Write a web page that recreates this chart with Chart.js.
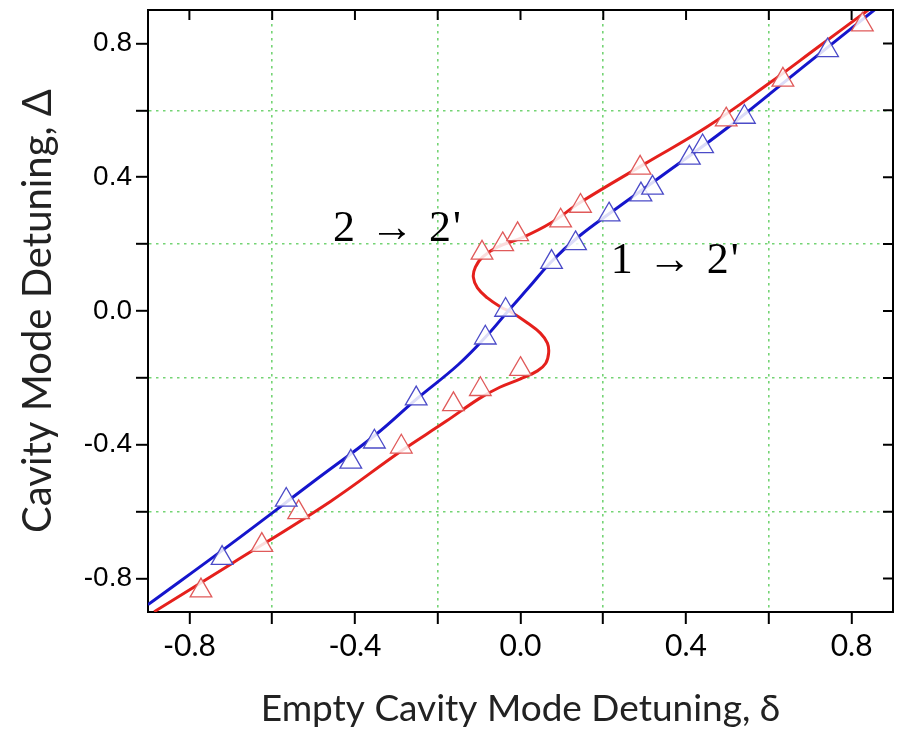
<!DOCTYPE html>
<html><head><meta charset="utf-8">
<script src="https://cdn.jsdelivr.net/npm/chart.js@4.4.0/dist/chart.umd.min.js"></script>
<style>html,body{margin:0;padding:0;background:#fff;}#wrap{width:898px;height:731px;}</style>
</head><body><div id="wrap"><canvas id="c" width="898" height="731"></canvas></div>
<script>
// ---- data ----
const blueMarkerX = [-0.721,-0.566,-0.410,-0.353,-0.252,-0.085,-0.036,0.075,0.133,0.214,0.291,0.319,0.408,0.440,0.541,0.742];
const blueMarkerY = [-0.739,-0.565,-0.451,-0.391,-0.262,-0.080,0.003,0.146,0.202,0.288,0.348,0.368,0.458,0.492,0.580,0.779];
const redMarkerX = [-0.772,-0.625,-0.536,-0.288,-0.162,-0.097,0.000,-0.093,-0.043,-0.007,0.097,0.145,0.289,0.497,0.634,0.826];
const redMarkerY = [-0.836,-0.700,-0.602,-0.406,-0.279,-0.234,-0.174,0.174,0.199,0.229,0.270,0.314,0.428,0.572,0.691,0.856];
const blueCurveX = [-0.900,-0.700,-0.500,-0.350,-0.250,-0.150,-0.080,-0.030,0.020,0.075,0.140,0.220,0.340,0.500,0.680,0.860];
const blueCurveY = [-0.878,-0.697,-0.510,-0.370,-0.262,-0.160,-0.072,0.000,0.070,0.148,0.222,0.296,0.403,0.548,0.727,0.905];
const redCurveX = [-0.885,-0.700,-0.460,-0.290,-0.180,-0.100,-0.050,0.000,0.041,0.061,0.068,0.065,0.048,0.017,-0.019,-0.048,-0.080,-0.104,-0.114,-0.109,-0.092,-0.056,0.007,0.073,0.145,0.300,0.450,0.600,0.720,0.840];
const redCurveY = [-0.899,-0.757,-0.570,-0.420,-0.330,-0.262,-0.228,-0.203,-0.179,-0.156,-0.125,-0.096,-0.066,-0.036,-0.006,0.012,0.039,0.069,0.101,0.131,0.161,0.191,0.221,0.263,0.325,0.440,0.550,0.680,0.790,0.900];
const tickValues = [-0.8,-0.6,-0.4,-0.2,0.0,0.2,0.4,0.6,0.8];
const xTickLabels = ['-0.8','','-0.4','','0.0','','0.4','','0.8'];
const yTickLabels = ['-0.8','','-0.4','','0.0','','0.4','','0.8'];
const xTitle = 'Empty Cavity Mode Detuning, \u03B4';
const yTitle = 'Cavity Mode Detuning, \u0394';
const annotations = [
  {text: "2 \u2192 2'", x: -0.453, y: 0.209},
  {text: "1 \u2192 2'", x: 0.218, y: 0.1135}
];

const pts = (xs, ys) => xs.map((v, i) => ({x: v, y: ys[i]}));
const isLabeled = (labels, i) => labels[i] !== '';
const GREEN = '#74d474';

const framePlugin = {
  id: 'frame',
  afterDatasetsDraw(chart) {
    const {ctx, chartArea: a, scales: {x, y}} = chart;
    ctx.save();
    ctx.strokeStyle = '#000';
    ctx.lineWidth = 2;
    ctx.beginPath();
    ctx.moveTo(a.left - 1, a.top);
    ctx.lineTo(a.right, a.top);
    ctx.lineTo(a.right, a.bottom + 1);
    tickValues.forEach(v => {
      const px = x.getPixelForValue(v);
      ctx.moveTo(px, a.top); ctx.lineTo(px, a.top + 10);
      const py = y.getPixelForValue(v);
      ctx.moveTo(a.right, py); ctx.lineTo(a.right - 10, py);
    });
    ctx.stroke();
    ctx.fillStyle = '#000';
    ctx.font = '44px "Liberation Serif", "DejaVu Serif", serif';
    try { ctx.letterSpacing = '2px'; } catch (e) {}
    ctx.textAlign = 'left';
    ctx.textBaseline = 'alphabetic';
    annotations.forEach(an => ctx.fillText(an.text, x.getPixelForValue(an.x), y.getPixelForValue(an.y)));
    ctx.restore();
  }
};

const noPad = s => { s.paddingTop = 0; s.paddingBottom = 0; s.paddingLeft = 0; s.paddingRight = 0; };
const markerCommon = {pointStyle: 'triangle', pointRadius: 12.5, pointBorderWidth: 1.3, showLine: false, pointBackgroundColor: 'rgba(255,255,255,0.85)'};

new Chart(document.getElementById('c'), {
  type: 'scatter',
  data: {
    datasets: [
      Object.assign({label: 'blue markers', data: pts(blueMarkerX, blueMarkerY), pointBorderColor: '#4b4bc8', borderColor: '#4b4bc8', order: 1}, markerCommon),
      Object.assign({label: 'red markers', data: pts(redMarkerX, redMarkerY), pointBorderColor: '#e05a5a', borderColor: '#e05a5a', order: 2}, markerCommon),
      {label: 'blue curve', data: pts(blueCurveX, blueCurveY), showLine: true, borderColor: '#1515cc', borderWidth: 3, pointRadius: 0, tension: 0.4, order: 3},
      {label: 'red curve', data: pts(redCurveX, redCurveY), showLine: true, borderColor: '#e5201c', borderWidth: 3, pointRadius: 0, tension: 0.4, order: 4}
    ]
  },
  options: {
    responsive: false,
    devicePixelRatio: 1,
    animation: false,
    layout: {autoPadding: false, padding: {top: 10, right: 5, left: 0, bottom: 0}},
    plugins: {legend: {display: false}, tooltip: {enabled: false}},
    scales: {
      x: {
        type: 'linear', position: 'bottom', min: -0.9, max: 0.9,
        afterBuildTicks: s => { s.ticks = tickValues.map(v => ({value: v})); },
        afterFit: s => { s.height = 119; noPad(s); },
        ticks: {callback: (v, i) => xTickLabels[i], autoSkip: false, maxRotation: 0, color: '#000', padding: 4,
                font: {family: 'Lato, "Liberation Sans", sans-serif', size: 30}},
        grid: {color: c => (c.tick && !isLabeled(xTickLabels, c.index)) ? GREEN : 'rgba(0,0,0,0)', lineWidth: 1.6,
               tickColor: '#000', tickLength: 12, tickWidth: 2},
        border: {display: true, color: '#000', width: 2, dash: [2.5, 4.5]},
        title: {display: true, text: xTitle, color: '#222', padding: 0,
                font: {family: 'Lato, "Liberation Sans", sans-serif', size: 37}}
      },
      y: {
        type: 'linear', position: 'left', min: -0.9, max: 0.9,
        afterBuildTicks: s => { s.ticks = tickValues.map(v => ({value: v})); },
        afterFit: s => { s.width = 148; noPad(s); },
        ticks: {callback: (v, i) => yTickLabels[i], autoSkip: false, color: '#000', padding: 4,
                font: {family: '"Liberation Sans", Arial, sans-serif', size: 28}},
        grid: {color: c => (c.tick && !isLabeled(yTickLabels, c.index)) ? GREEN : 'rgba(0,0,0,0)', lineWidth: 1.6,
               tickColor: '#000', tickLength: 12, tickWidth: 2},
        border: {display: true, color: '#000', width: 2, dash: [2.5, 4.5]},
        title: {display: true, text: yTitle, color: '#222', padding: {top: 14, bottom: 0},
                font: {family: 'Lato, "Liberation Sans", sans-serif', size: 40}}
      }
    }
  },
  plugins: [framePlugin]
});
</script>
</body></html>
